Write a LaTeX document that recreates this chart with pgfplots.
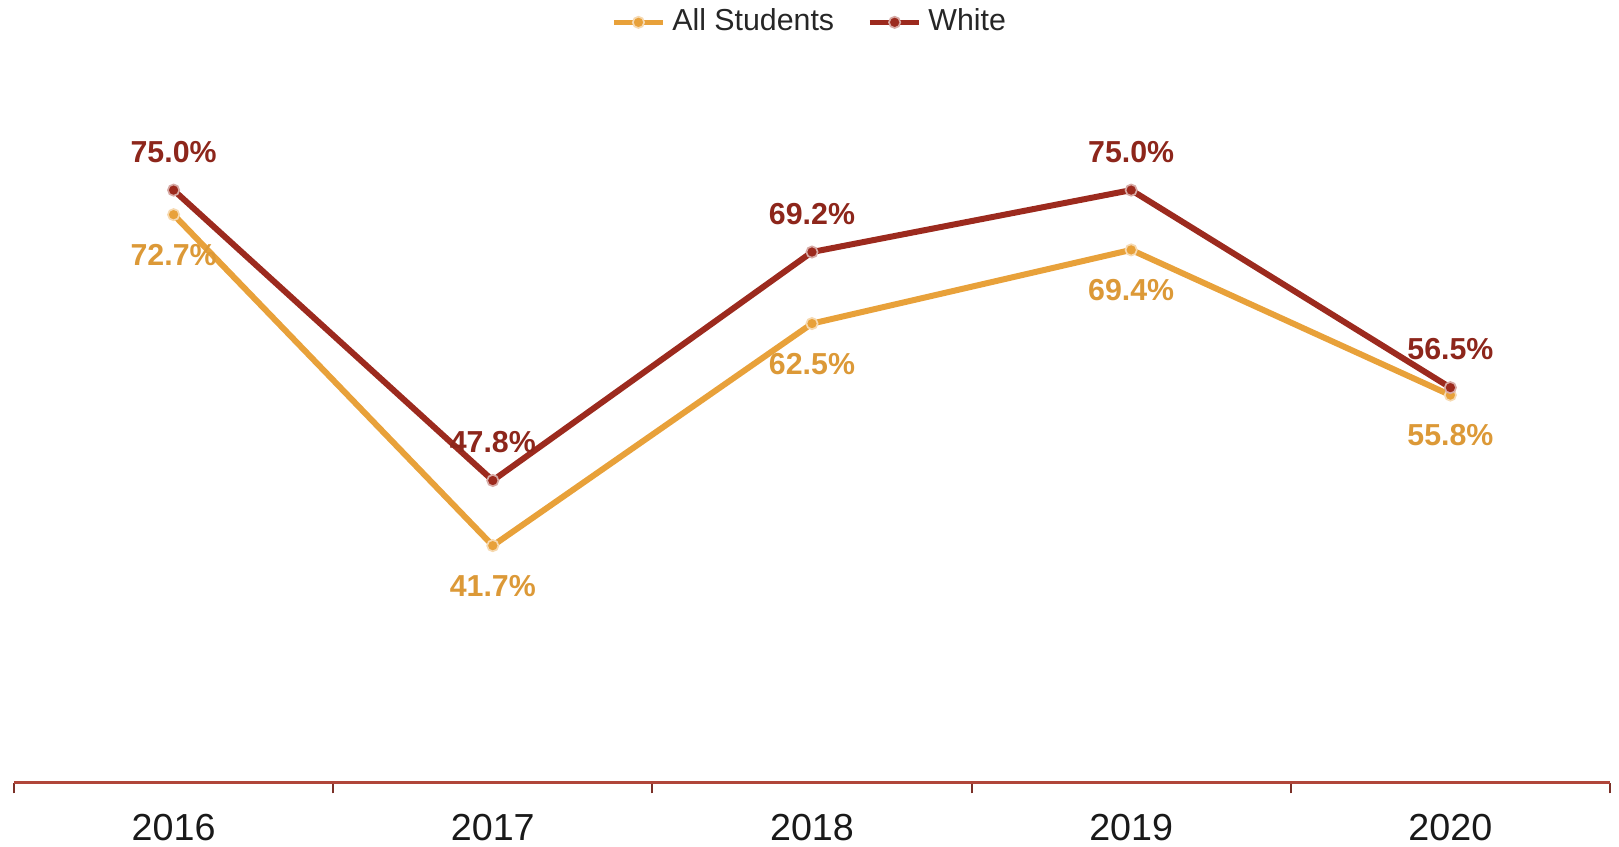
\documentclass[border=0pt]{standalone}
\usepackage{pgfplots}
\pgfplotsset{compat=1.18}
\usepackage{fontspec}
\setmainfont{Liberation Sans}
\definecolor{orangeS}{HTML}{E8A13A}
\definecolor{redW}{HTML}{9C2A1E}
\definecolor{axisred}{HTML}{B0463A}
\begin{document}
\begin{tikzpicture}
\begin{axis}[
  at={(0,0)}, anchor=south west,
  width=478.8pt, height=216.2pt, scale only axis,
  xmin=-0.5, xmax=4.5, ymin=19.5, ymax=87,
  axis x line=bottom, axis y line=none,
  x axis line style={-, draw=axisred, line width=0.8pt},
  xtick={0,1,2,3,4},
  xticklabels={2016,2017,2018,2019,2020},
  major x tick style={draw=none},
  minor xtick={-0.5,0.5,1.5,2.5,3.5,4.5},
  minor x tick style={draw=axisred!70!black, line width=0.6pt},
  minor tick length=3.2pt,
  tick align=outside,
  xticklabel style={anchor=center, yshift=-9.2pt, font=\fontsize{11.3}{13}\selectfont, text=black!90},
  ytick={30,40,50,60,70,80},
  yticklabels={},
  ymajorgrids,
  y grid style={draw=gray!6, line width=0.6pt},
  clip=false,
  legend columns=2,
  legend style={draw=none, fill=none, at={(0.5,1.055)}, anchor=center,
    font=\fontsize{9.1}{11}\selectfont, text=black!85,
    /tikz/every even column/.append style={column sep=8pt}},
  legend image code/.code={
    \draw[#1, line width=1.5pt, mark repeat=2, mark phase=2] plot coordinates {(0cm,0cm) (0.26cm,0cm) (0.52cm,0cm)};},
  nodes near coords={\pgfmathprintnumber[fixed,fixed zerofill,precision=1,assume math mode=true]{\pgfplotspointmeta}\%},
  nodes near coords style={font=\bfseries\fontsize{9.1}{11}\selectfont, anchor=center},
]
\addplot[color=orangeS, line width=1.8pt, mark=*, mark size=1.7pt,
  mark options={fill=orangeS, draw=orangeS!40!white, line width=0.5pt},
  every node near coord/.append style={text=orangeS!95!black, yshift=-12pt}]
  coordinates {(0,72.7) (1,41.7) (2,62.5) (3,69.4) (4,55.8)};
\addlegendentry{All Students}
\addplot[color=redW, line width=1.8pt, mark=*, mark size=1.7pt,
  mark options={fill=redW, draw=redW!40!white, line width=0.5pt},
  every node near coord/.append style={text=redW!90!black, yshift=11.5pt}]
  coordinates {(0,75.0) (1,47.8) (2,69.2) (3,75.0) (4,56.5)};
\addlegendentry{White}
\end{axis}
\pgfresetboundingbox
\path[use as bounding box] (-4.2pt,-19.3pt) rectangle (481.5pt,234.8pt);
\end{tikzpicture}
\end{document}
